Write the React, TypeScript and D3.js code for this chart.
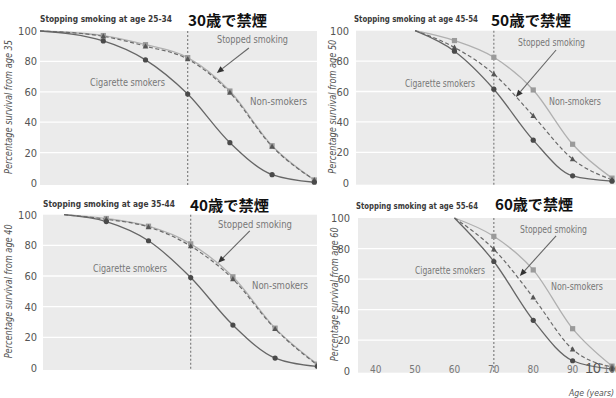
import React from "react";
import * as d3 from "d3";

// ---------- data ----------
const yTicks = [0, 20, 40, 60, 80, 100];
const xTicks = [40, 50, 60, 70, 80, 90, 100];
const quitAge = 70;

const ages35 = [35, 50, 60, 70, 80, 90, 100];
const smokers35 = [100, 93.5, 81, 58.5, 26.5, 5.5, 0.5];
const nonSmokers35 = [100, 97, 91, 82.5, 60.5, 24.5, 2];
const stopped35 = [100, 96.5, 90, 81.5, 59.5, 24, 2];

const ages40 = [40, 50, 60, 70, 80, 90, 100];
const smokers40 = [100, 95.5, 83, 59, 28, 6.5, 1];
const nonSmokers40 = [100, 97.5, 92.5, 81, 59.5, 26, 2.5];
const stopped40 = [100, 97, 92, 79.5, 58, 25.5, 2];

const ages50 = [50, 60, 70, 80, 90, 100];
const smokers50 = [100, 86.5, 61.5, 28, 4.5, 1];
const nonSmokers50 = [100, 93.5, 82.5, 61, 25.3, 3];
const stopped50 = [100, 89, 71.5, 44, 15.5, 2];

const ages60 = [60, 70, 80, 90, 100];
const smokers60 = [100, 71.5, 33, 6.5, 1];
const nonSmokers60 = [100, 88, 66, 27.5, 3];
const stopped60 = [100, 79.5, 48, 14, 2.5];

const titles = [
  "Stopping smoking at age 25-34",
  "Stopping smoking at age 45-54",
  "Stopping smoking at age 35-44",
  "Stopping smoking at age 55-64",
];
const jpTitles = ["30歳で禁煙", "50歳で禁煙", "40歳で禁煙", "60歳で禁煙"];
const yLabels = [
  "Percentage survival from age 35",
  "Percentage survival from age 50",
  "Percentage survival from age 40",
  "Percentage survival from age 60",
];
// arrow [fromAge, fromValue, toAge, toValue]
const arrows = [
  [84.5, 88.8, 76.9, 72.4],
  [85.8, 87.3, 75.6, 56.4],
  [84, 89.5, 76.5, 68.6],
  [85.8, 88.3, 76.6, 62],
];

// ---------- layout ----------
const NARROW = "'Liberation Sans Narrow','DejaVu Sans Condensed','Arial Narrow',sans-serif";

const layouts = [
  { px0: 40, px1: 317, xr: [40, 314.3], yr: [183, 31], yl: 12, tickX: 37, title: [40, 22, 132], jp: [188, 26, 79],
    stoppedLbl: [217, 43, 71], cigLbl: [90, 86, 75], nonLbl: [250, 105, 57], clipR: 317 },
  { px0: 356, px1: 616, xr: [356, 612], yr: [182.7, 30.7], yl: 336, tickX: 349, title: [354, 22, 124], jp: [491, 26, 80],
    stoppedLbl: [518, 46, 67], cigLbl: [405, 87, 70], nonLbl: [549, 105, 52], clipR: 616 },
  { px0: 43, px1: 317, xr: [43, 317.3], yr: [368, 214.7], yl: 12, tickX: 37, title: [43, 207, 132], jp: [190, 211, 79],
    stoppedLbl: [218, 228, 74], cigLbl: [93, 272, 74], nonLbl: [252, 289, 56], clipR: 317 },
  { px0: 358, px1: 616, xr: [356, 612], yr: [370.7, 218], yl: 338, tickX: 350, title: [356, 209, 122], jp: [495, 210, 78],
    stoppedLbl: [520, 233, 67], cigLbl: [415, 274, 70], nonLbl: [551, 290, 52], clipR: 616 },
];

const series = [
  { ages: ages35, s: smokers35, n: nonSmokers35, q: stopped35 },
  { ages: ages50, s: smokers50, n: nonSmokers50, q: stopped50 },
  { ages: ages40, s: smokers40, n: nonSmokers40, q: stopped40 },
  { ages: ages60, s: smokers60, n: nonSmokers60, q: stopped60 },
];

function Panel({ i }: { i: number }) {
  const L = layouts[i];
  const D = series[i];
  const x = d3.scaleLinear().domain([35, 100]).range(L.xr);
  const y = d3.scaleLinear().domain([0, 100]).range(L.yr);
  const top = y(100);
  const bottom = y(0) + 2;
  const line = d3
    .line<number>()
    .x((_, k) => x(D.ages[k]))
    .y((v) => y(v))
    .curve(d3.curveMonotoneX);
  const clipId = `clip${i}`;
  const [fa, fv, ta, tv] = arrows[i];
  const ax1 = x(fa), ay1 = y(fv), ax2 = x(ta), ay2 = y(tv);
  const ang = Math.atan2(ay2 - ay1, ax2 - ax1);
  const hl = 7, hw = 3;
  const bx = ax2 - hl * Math.cos(ang), by = ay2 - hl * Math.sin(ang);
  const head = [
    [ax2, ay2],
    [bx + hw * Math.sin(ang), by - hw * Math.cos(ang)],
    [bx - hw * Math.sin(ang), by + hw * Math.cos(ang)],
  ];
  const markIdx = D.ages.map((_, k) => k).filter((k) => k > 0);
  const yMid = (y(100) + y(0)) / 2;
  const isRight = i === 1 || i === 3;
  return (
    <g>
      {isRight && <rect x={318} y={top - 12} width={L.px0 - 318} height={bottom - top + 24} fill="#fff" />}
      <defs>
        <clipPath id={clipId}>
          <rect x={L.px0} y={top - 6} width={L.clipR - L.px0} height={bottom - top + 10} />
        </clipPath>
      </defs>
      <rect x={L.px0} y={top} width={L.px1 - L.px0} height={bottom - top} fill="#ebebeb" />
      {yTicks
        .filter((t) => t > 0 && t < 100)
        .map((t) => (
          <line key={t} x1={L.px0} x2={L.px1} y1={y(t)} y2={y(t)} stroke="#fff" strokeWidth={1.3} />
        ))}
      {yTicks.map((t) => (
        <text key={t} x={L.tickX} y={y(t) + 4} textAnchor="end" fontSize={11} fill="#555"
          fontFamily={NARROW}>{t}</text>
      ))}
      <text transform={`translate(${L.yl},${yMid}) rotate(-90)`} textAnchor="middle" fontSize={10}
        fontStyle="italic" fill="#555" fontFamily={NARROW} textLength={134} lengthAdjust="spacingAndGlyphs">
        {yLabels[i]}
      </text>
      <line x1={x(quitAge)} x2={x(quitAge)} y1={top} y2={bottom} stroke="#777" strokeWidth={1.1}
        strokeDasharray="2,2" />
      <g clipPath={`url(#${clipId})`}>
        <path d={line(D.n) || ""} fill="none" stroke="#b0b0b0" strokeWidth={1.3} />
        <path d={line(D.q) || ""} fill="none" stroke="#6a6a6a" strokeWidth={1.2} strokeDasharray="4,2.5" />
        <path d={line(D.s) || ""} fill="none" stroke="#666" strokeWidth={1.3} />
        {markIdx.map((k) => (
          <rect key={"n" + k} x={x(D.ages[k]) - 2.6} y={y(D.n[k]) - 2.6} width={5.2} height={5.2} fill="#9a9a9a" />
        ))}
        {markIdx.map((k) => {
          const cx = x(D.ages[k]), cy = y(D.q[k]);
          return (
            <path key={"q" + k} d={`M${cx},${cy - 3}L${cx + 2.8},${cy + 2.2}L${cx - 2.8},${cy + 2.2}Z`} fill="#555" />
          );
        })}
        {markIdx.map((k) => (
          <circle key={"s" + k} cx={x(D.ages[k])} cy={y(D.s[k])} r={2.6} fill="#4a4a4a" />
        ))}
      </g>
      <line x1={ax1} y1={ay1} x2={bx} y2={by} stroke="#666" strokeWidth={1.1} />
      <path d={`M${head.map((p) => p.join(",")).join("L")}Z`} fill="#333" />
      <text x={L.stoppedLbl[0]} y={L.stoppedLbl[1]} fontSize={10} fill="#777" fontFamily={NARROW}
        textLength={L.stoppedLbl[2]} lengthAdjust="spacingAndGlyphs">Stopped smoking</text>
      <text x={L.cigLbl[0]} y={L.cigLbl[1]} fontSize={10} fill="#777" fontFamily={NARROW}
        textLength={L.cigLbl[2]} lengthAdjust="spacingAndGlyphs">Cigarette smokers</text>
      <text x={L.nonLbl[0]} y={L.nonLbl[1]} fontSize={10} fill="#777" fontFamily={NARROW}
        textLength={L.nonLbl[2]} lengthAdjust="spacingAndGlyphs">Non-smokers</text>
      <text x={L.title[0]} y={L.title[1]} fontSize={9} fontWeight="bold" fill="#3a3a3a" fontFamily={NARROW}
        textLength={L.title[2]} lengthAdjust="spacingAndGlyphs">{titles[i]}</text>
      <text x={L.jp[0]} y={L.jp[1]} fontSize={15} fontWeight="bold" fill="#111"
        fontFamily="'Noto Sans CJK JP',sans-serif" textLength={L.jp[2]} lengthAdjust="spacingAndGlyphs">
        {jpTitles[i]}
      </text>
      {i === 3 && (
        <g>
          {xTicks.map((t) => (
            <text key={t} x={x(t)} y={373} textAnchor="middle" fontSize={10} fill="#777" fontFamily={NARROW}>
              {t}
            </text>
          ))}
          <text x={593} y={373} textAnchor="middle" fontSize={14} fill="#555" fontFamily="'Liberation Sans',sans-serif">10</text>
          <text x={569} y={396} fontSize={9} fontStyle="italic" fill="#555" fontFamily={NARROW}
            textLength={45} lengthAdjust="spacingAndGlyphs">Age (years)</text>
        </g>
      )}
    </g>
  );
}

export default function App() {
  return (
    <svg width={616} height={398} style={{ position: "fixed", left: 0, top: 0, background: "#fff" }}>
      <rect width={616} height={398} fill="#fff" />
      {[0, 2, 1, 3].map((i) => (
        <Panel key={i} i={i} />
      ))}
    </svg>
  );
}
